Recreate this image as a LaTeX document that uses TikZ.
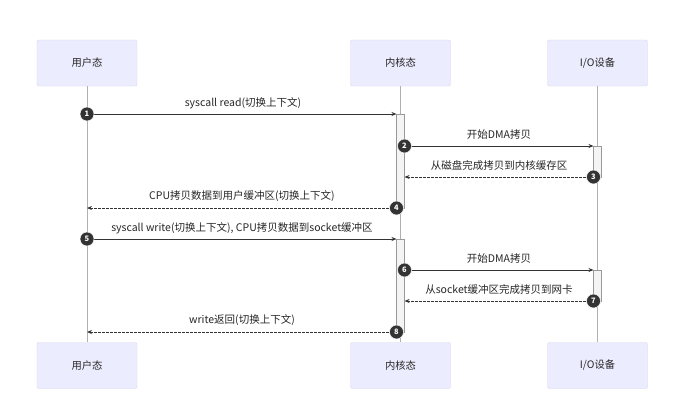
\documentclass[tikz,border=0pt]{standalone}
\usepackage{fontspec}
\setmainfont{Noto Sans CJK SC}
\usetikzlibrary{arrows.meta}
\definecolor{actfill}{HTML}{ECECFF}
\definecolor{actdraw}{HTML}{D6D6EE}
\definecolor{msgc}{HTML}{333333}
\definecolor{lifec}{HTML}{B0B0B0}
\definecolor{barfill}{HTML}{F4F4F4}
\definecolor{barc}{HTML}{999999}
\begin{document}
\begin{tikzpicture}[x=1pt,y=-1pt,
  actor/.style={draw=actdraw, fill=actfill, rounded corners=2pt, minimum width=100pt, minimum height=46pt, inner sep=0pt, font=\fontsize{10.3}{12}\selectfont, text=black!85},
  life/.style={draw=lifec, line width=0.6pt},
  actbar/.style={draw=barc, fill=barfill, line width=0.6pt, minimum width=8pt, inner sep=0pt},
  solidmsg/.style={draw=msgc, line width=0.9pt, -{Stealth[length=5pt,width=4pt]}},
  dashmsg/.style={draw=msgc, line width=0.9pt, dash pattern=on 2.5pt off 1.5pt, -{Stealth[length=5pt,width=4pt]}},
  numc/.style={circle, fill=msgc, draw=white, line width=0.5pt, inner sep=0pt, minimum size=14pt, text=white, font=\fontsize{7.5}{8}\selectfont\bfseries},
  lbl/.style={font=\fontsize{10.5}{12}\selectfont, text=black!85, inner sep=1pt}
]
\useasboundingbox (0,0) rectangle (688,413);
\fill[white] (0,0) rectangle (688,413);

% actors
\node[actor] (u1) at (87,63) {用户态};
\node[actor] (k1) at (400.5,63) {内核态};
\node[actor] (d1) at (597.5,63) {I/O设备};
\node[actor] (u2) at (87,365.5) {用户态};
\node[actor] (k2) at (400.5,365.5) {内核态};
\node[actor] (d2) at (597.5,365.5) {I/O设备};

% lifelines
\draw[life] (u1.south) -- (u2.north);
\draw[life] (k1.south) -- (k2.north);
\draw[life] (d1.south) -- (d2.north);

% activations
\node[actbar, minimum height=94pt] (ka1) at (400.5,161) {};
\node[actbar, minimum height=93pt] (ka2) at (400.5,285.5) {};
\node[actbar, minimum height=31pt] (da1) at (597.5,161.5) {};
\node[actbar, minimum height=31pt] (da2) at (597.5,285.5) {};

% message end points
\coordinate (m1s) at (87,114);   \coordinate (m1e) at (396.5,114);
\coordinate (m2s) at (404.5,146); \coordinate (m2e) at (593.5,146);
\coordinate (m3s) at (593.5,177); \coordinate (m3e) at (404.5,177);
\coordinate (m4s) at (396.5,208); \coordinate (m4e) at (87,208);
\coordinate (m5s) at (87,239);   \coordinate (m5e) at (396.5,239);
\coordinate (m6s) at (404.5,270); \coordinate (m6e) at (593.5,270);
\coordinate (m7s) at (593.5,301); \coordinate (m7e) at (404.5,301);
\coordinate (m8s) at (396.5,332); \coordinate (m8e) at (87,332);

% messages
\draw[solidmsg] (m1s) -- (m1e);
\draw[solidmsg] (m2s) -- (m2e);
\draw[dashmsg] (m3s) -- (m3e);
\draw[dashmsg] (m4s) -- (m4e);
\draw[solidmsg] (m5s) -- (m5e);
\draw[solidmsg] (m6s) -- (m6e);
\draw[dashmsg] (m7s) -- (m7e);
\draw[dashmsg] (m8s) -- (m8e);

% labels
\node[lbl] (l1) at (243,103) {syscall read(切换上下文)};
\node[lbl] (l2) at (499,134.5) {开始DMA拷贝};
\node[lbl] (l3) at (499,165.5) {从磁盘完成拷贝到内核缓存区};
\node[lbl] (l4) at (242,196.5) {CPU拷贝数据到用户缓冲区(切换上下文)};
\node[lbl] (l5) at (242,228) {syscall write(切换上下文), CPU拷贝数据到socket缓冲区};
\node[lbl] (l6) at (499,258.5) {开始DMA拷贝};
\node[lbl] (l7) at (499,289.5) {从socket缓冲区完成拷贝到网卡};
\node[lbl] (l8) at (242,320.5) {write返回(切换上下文)};

% numbers
\node[numc] (n1) at (m1s) {1};
\node[numc] (n2) at (m2s) {2};
\node[numc] (n3) at (m3s) {3};
\node[numc] (n4) at (m4s) {4};
\node[numc] (n5) at (m5s) {5};
\node[numc] (n6) at (m6s) {6};
\node[numc] (n7) at (m7s) {7};
\node[numc] (n8) at (m8s) {8};
\end{tikzpicture}
\end{document}
